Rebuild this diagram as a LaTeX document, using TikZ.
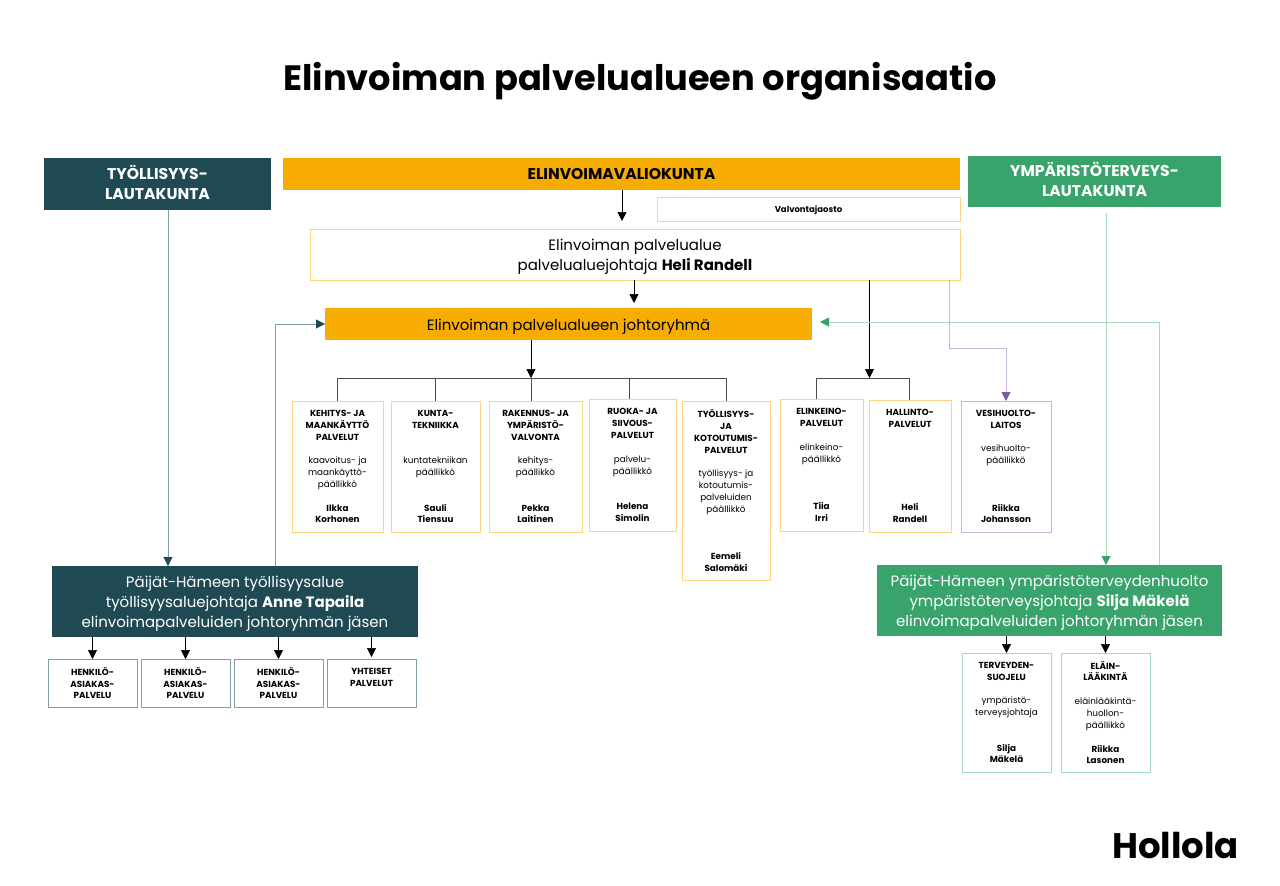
\documentclass[tikz,border=0pt]{standalone}
\usepackage{fontspec}
\setmainfont{Poppins}
\usetikzlibrary{arrows.meta}
\definecolor{teal}{HTML}{1F4A54}
\definecolor{tealline}{HTML}{7F9FA6}
\definecolor{amber}{HTML}{F6AC00}
\definecolor{amberline}{HTML}{FFD67F}
\definecolor{leaf}{HTML}{38A36B}
\definecolor{leafline}{HTML}{A5DABD}
\definecolor{plum}{HTML}{7B5AA6}
\definecolor{plumline}{HTML}{C5B5DC}
\tikzset{
	band/.style={outer sep=0pt,inner sep=0pt,align=center,font=\fontsize{15.6}{20}\selectfont\bfseries},
	lead/.style={outer sep=0pt,inner sep=0pt,align=center,text depth=0pt,draw=amberline,line width=1pt,font=\fontsize{15}{20}\selectfont},
	headbox/.style={outer sep=0pt,inner sep=0pt,align=center,text depth=0pt,text=white,font=\fontsize{15}{20}\selectfont},
	unit/.style={outer sep=0pt,inner sep=0pt,align=center,text depth=0pt,draw=amberline,line width=0.9pt,font=\fontsize{8.8}{11.85}\selectfont},
	arr/.style={-{Triangle[length=9pt,width=9pt]},line width=0.7pt},
	link/.style={line width=0.7pt,black!70},
	soft/.style={line width=1pt,-{Triangle[length=9pt,width=9pt,fill=#1,color=#1]}},
}
\begin{document}
\begin{tikzpicture}[x=1pt,y=-1pt]
	\useasboundingbox (0,0) rectangle (1280,886);
	\fill [white] (0,0) rectangle (1280,886);
	\node (title) at (640,81) {\fontsize{35.2}{44}\selectfont\bfseries Elinvoiman palvelualueen organisaatio};
	\node (hollola) at (1175.5,845) {\fontsize{35.5}{40}\selectfont\bfseries Hollola};
	% top row
	\node [band,fill=teal,text=white,text depth=4pt,minimum width=227pt,minimum height=52pt] (tlk) at (157.5,184) {TYÖLLISYYS-\\LAUTAKUNTA};
	\node [band,fill=amber,minimum width=677pt,minimum height=32pt] (valiokunta) at (621.5,174) {ELINVOIMAVALIOKUNTA};
	\node [band,fill=leaf,text=white,text depth=4pt,minimum width=253pt,minimum height=51pt] (ylk) at (1094.5,181.5) {YMPÄRISTÖTERVEYS-\\LAUTAKUNTA};
	\node [lead,minimum width=303pt,minimum height=24pt,font=\fontsize{8.5}{11}\selectfont\bfseries] (jaosto) at (808.5,209) {Valvontajaosto};
	\node [lead,minimum width=650pt,minimum height=51pt] (alue) at (635,254.5) {Elinvoiman palvelualue\\palvelualuejohtaja \textbf{Heli Randell}};
	\node [lead,draw=none,fill=amber,text height=12pt,minimum width=487pt,minimum height=32pt] (johto) at (568.5,324) {Elinvoiman palvelualueen johtoryhmä};
	% units under the group
	\node [unit,minimum width=91pt,minimum height=131pt] (kehitys) at (337.5,466.5) {\textbf{KEHITYS- JA}\\\textbf{MAANKÄYTTÖ}\\\textbf{PALVELUT}\\~\\kaavoitus- ja\\maankäyttö-\\päällikkö\\~\\\textbf{Ilkka}\\\textbf{Korhonen}};
	\node [unit,minimum width=89pt,minimum height=131pt] (kunta) at (435.5,466.5) {\textbf{KUNTA-}\\\textbf{TEKNIIKKA}\\~\\~\\kuntatekniikan\\päällikkö\\~\\~\\\textbf{Sauli}\\\textbf{Tiensuu}};
	\node [unit,minimum width=93pt,minimum height=131pt] (rakennus) at (535.5,466.5) {\textbf{RAKENNUS- JA}\\\textbf{YMPÄRISTÖ-}\\\textbf{VALVONTA}\\~\\kehitys-\\päällikkö\\~\\~\\\textbf{Pekka}\\\textbf{Laitinen}};
	\node [unit,minimum width=87pt,minimum height=132pt] (ruoka) at (632.5,465) {\textbf{RUOKA- JA}\\\textbf{SIIVOUS-}\\\textbf{PALVELUT}\\~\\palvelu-\\päällikkö\\~\\~\\\textbf{Helena}\\\textbf{Simolin}};
	\node [unit,minimum width=88pt,minimum height=179pt] (kotou) at (726,490.5) {\textbf{TYÖLLISYYS-}\\\textbf{JA}\\\textbf{KOTOUTUMIS-}\\\textbf{PALVELUT}\\~\\työllisyys- ja\\kotoutumis-\\palveluiden\\päällikkö\\~\\~\\~\\\textbf{Eemeli}\\\textbf{Salomäki}};
	\node [unit,minimum width=83pt,minimum height=132pt] (elinkeino) at (821.5,465) {\textbf{ELINKEINO-}\\\textbf{PALVELUT}\\~\\elinkeino-\\päällikkö\\~\\~\\~\\\textbf{Tiia}\\\textbf{Irri}};
	\node [unit,minimum width=82pt,minimum height=132pt] (hallinto) at (910,466) {\textbf{HALLINTO-}\\\textbf{PALVELUT}\\~\\~\\~\\~\\~\\~\\\textbf{Heli}\\\textbf{Randell}};
	\node [unit,draw=plumline,minimum width=90pt,minimum height=131pt] (vesi) at (1006,466.5) {\textbf{VESIHUOLTO-}\\\textbf{LAITOS}\\~\\vesihuolto-\\päällikkö\\~\\~\\~\\\textbf{Riikka}\\\textbf{Johansson}};
	% left branch
	\node [headbox,fill=teal,minimum width=366pt,minimum height=71pt] (tapaila) at (235,601.5) {Päijät-Hämeen työllisyysalue\\työllisyysaluejohtaja \textbf{Anne Tapaila}\\elinvoimapalveluiden johtoryhmän jäsen};
	\node [unit,draw=tealline,minimum width=89pt,minimum height=48pt] (hapa) at (92.5,683) {\textbf{HENKILÖ-}\\\textbf{ASIAKAS-}\\\textbf{PALVELU}};
	\node [unit,draw=tealline,minimum width=89pt,minimum height=48pt] (hapb) at (185.5,683) {\textbf{HENKILÖ-}\\\textbf{ASIAKAS-}\\\textbf{PALVELU}};
	\node [unit,draw=tealline,minimum width=89pt,minimum height=48pt] (hapc) at (278.5,683) {\textbf{HENKILÖ-}\\\textbf{ASIAKAS-}\\\textbf{PALVELU}};
	\node [unit,draw=tealline,minimum width=89pt,minimum height=48pt] (yht) at (371.5,683) {\textbf{YHTEISET}\\\textbf{PALVELUT}\\~};
	% right branch
	\node [headbox,fill=leaf,minimum width=345pt,minimum height=71pt] (makela) at (1049.5,600.5) {Päijät-Hämeen ympäristöterveydenhuolto\\ympäristöterveysjohtaja \textbf{Silja Mäkelä}\\elinvoimapalveluiden johtoryhmän jäsen};
	\node [unit,draw=leafline,minimum width=89pt,minimum height=119pt] (terveys) at (1006.5,712.5) {\textbf{TERVEYDEN-}\\\textbf{SUOJELU}\\~\\ympäristö-\\terveysjohtaja\\~\\~\\\textbf{Silja}\\\textbf{Mäkelä}};
	\node [unit,draw=leafline,minimum width=89pt,minimum height=119pt] (elain) at (1105.5,712.5) {\textbf{ELÄIN-}\\\textbf{LÄÄKINTÄ}\\~\\eläinlääkintä-\\huollon-\\päällikkö\\~\\\textbf{Riikka}\\\textbf{Lasonen}};
	% helper columns and rows for the connectors
	\coordinate (xa) at (622,0);
	\coordinate (xb) at (634,0);
	\coordinate (xc) at (531,0);
	\coordinate (xd) at (869.5,0);
	\coordinate (xe) at (949,0);
	\coordinate (xf) at (1006,0);
	\coordinate (xg) at (168,0);
	\coordinate (xh) at (275.5,0);
	\coordinate (xi) at (1106,0);
	\coordinate (xj) at (1159,0);
	\coordinate (ya) at (0,378);
	\coordinate (yb) at (0,348);
	\coordinate (yc) at (0,322);
	\draw [arr,shorten >=8pt] (valiokunta.south -| xa) -- (alue.north -| xa);
	\draw [arr,shorten >=5pt] (alue.south -| xb) -- (johto.north -| xb);
	\draw [arr] (johto.south -| xc) -- (xc |- ya);
	\draw [link] (kehitys.north) -- (kehitys.north |- ya) -- (kotou.north |- ya) -- (kotou.north);
	\draw [link] (kunta.north) -- (kunta.north |- ya);
	\draw [link] (xc |- ya) -- (xc |- rakennus.north);
	\draw [link] ([xshift=-3.5pt]ruoka.north |- ya) -- ([xshift=-3.5pt]ruoka.north);
	\draw [arr] (alue.south -| xd) -- (xd |- ya);
	\draw [link] ([xshift=-5.5pt]elinkeino.north) -- ([xshift=-5.5pt]elinkeino.north |- ya) -- ([xshift=-1pt]hallinto.north |- ya) -- ([xshift=-1pt]hallinto.north);
	\draw [soft=plum,plumline] (alue.south -| xe) -- (xe |- yb) -- (xf |- yb) -- (vesi.north -| xf);
	\draw [soft=teal,tealline] (tlk.south -| xg) -- (tapaila.north -| xg);
	\draw [soft=teal,tealline] (tapaila.north -| xh) -- (xh |- johto.west) -- (johto.west);
	\draw [soft=leaf,leafline,shorten <=6pt] (ylk.south -| xi) -- (makela.north -| xi);
	\draw [soft=leaf,leafline,shorten >=8pt] (makela.north -| xj) -- (xj |- yc) -- (johto.east |- yc);
	\draw [arr] (tapaila.south -| hapa.north) -- (hapa.north);
	\draw [arr] (tapaila.south -| hapb.north) -- (hapb.north);
	\draw [arr] (tapaila.south -| hapc.north) -- (hapc.north);
	\draw [arr,shorten >=2pt] (tapaila.south -| yht.north) -- (yht.north);
	\draw [arr] (makela.south -| terveys.north) -- (terveys.north);
	\draw [arr] (makela.south -| elain.north) -- (elain.north);
\end{tikzpicture}
\end{document}
